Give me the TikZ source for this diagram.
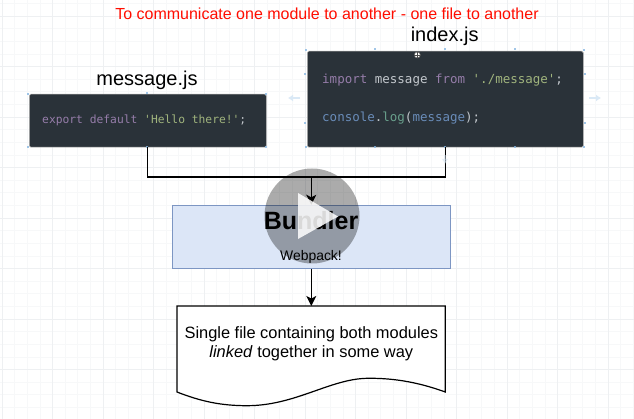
\documentclass[tikz,border=0pt]{standalone}
\usepackage{fontspec}
\setmainfont{Liberation Sans}
\newfontfamily\codefont{DejaVu Sans Mono}
\usetikzlibrary{arrows.meta}
\definecolor{gridmin}{RGB}{247,248,249}
\definecolor{gridmaj}{RGB}{238,240,242}
\definecolor{panel}{RGB}{42,50,57}
\definecolor{kw}{RGB}{150,125,170}
\definecolor{strc}{RGB}{160,180,125}
\definecolor{plain}{RGB}{195,200,205}
\definecolor{fn}{RGB}{105,140,185}
\definecolor{fng}{RGB}{105,160,140}
\definecolor{handle}{RGB}{130,180,225}
\definecolor{bfill}{RGB}{220,230,247}
\definecolor{bline}{RGB}{125,150,195}
\tikzset{
 codebox/.style={fill=panel,draw=gray!60,line width=0.5pt,rounded corners=1.5pt,anchor=north west,inner sep=0pt},
 codetxt/.style={font=\codefont\fontsize{11.3}{13}\selectfont,anchor=base west,inner sep=0pt},
 codetxtb/.style={font=\codefont\fontsize{12.5}{14}\selectfont,anchor=base west,inner sep=0pt},
 title/.style={font=\fontsize{20}{24}\selectfont,inner sep=0pt,anchor=base},
 link/.style={line width=1.2pt,black},
 tip/.style={-{Stealth[length=10pt,width=10pt,inset=2.5pt]}},
 hd/.style={fill=handle,opacity=.75,inner sep=0pt,minimum size=2pt,rectangle},
 ghost/.style={handle!30,line width=2pt,-{Latex[length=5pt,width=7pt]}},
}
\begin{document}
\begin{tikzpicture}[x=1pt,y=-1pt]
\useasboundingbox (0,0) rectangle (634,419);
\fill[white] (0,0) rectangle (634,419);
\foreach \k in {0,...,50} {
  \pgfmathsetmacro\gx{2+12.625*\k}
  \pgfmathsetmacro\gy{3.4+12.625*\k}
  \draw[gridmin,line width=.6pt] (\gx,0) -- (\gx,419);
  \draw[gridmin,line width=.6pt] (0,\gy) -- (634,\gy);
}
\foreach \k in {0,...,12} {
  \pgfmathsetmacro\gx{2+50.5*\k}
  \draw[gridmaj,line width=.6pt] (\gx,0) -- (\gx,419);
}
\foreach \k in {0,...,8} {
  \pgfmathsetmacro\gy{16+50.5*\k}
  \draw[gridmaj,line width=.6pt] (0,\gy) -- (634,\gy);
}

\node[font=\fontsize{16}{19}\selectfont,text=red!90!orange,inner sep=0pt,anchor=base] (head) at (327,20) {To communicate one module to another - one file to another};
\node[title] (tm) at (147,86) {message.js};
\node[title] (ti) at (444.7,41.7) {index.js};

\node[codebox,minimum width=237pt,minimum height=53pt] (msg) at (29,94) {};
\node[codebox,minimum width=276pt,minimum height=96pt] (idx) at (307,51) {};
\foreach \a/\b in {28/94,147/93.5,266/94,28/147,147/147,266/147,306/50,375/49,445/49,515/49,584/50,306/147,375/147,445/147,515/147,584/147,305/74,305/123,585/74,585/123}
  \node[hd] (h\a\b) at (\a,\b) {};
\coordinate (la1) at (300,98); \coordinate (la2) at (288,98);
\coordinate (ra1) at (589,98); \coordinate (ra2) at (601,98);
\coordinate (da1) at (445,155); \coordinate (da2) at (445,164);
\draw[ghost] (la1) -- (la2);
\draw[ghost] (ra1) -- (ra2);

\node[codetxt,text=kw] (m1) at (42,124) {export default \textcolor{strc}{'Hello there!'}\textcolor{plain}{;}};
\node[codetxtb,text=kw] (i1) at (322,84) {import \textcolor{plain}{message} from \textcolor{strc}{'./message'}\textcolor{plain}{;}};
\node[codetxtb,text=fn] (i2) at (322,122) {console\textcolor{plain}{.}\textcolor{fng}{log}\textcolor{plain}{(}message\textcolor{plain}{);}};

\node[circle,fill=white,draw=black!60,line width=.5pt,minimum size=6pt,inner sep=0pt] (cur) at (417.3,55) {};
\draw[black!70,line width=.7pt] (cur.north) -- (cur.south) (cur.west) -- (cur.east);

\node[fill=bfill,draw=bline,line width=1pt,minimum width=278pt,minimum height=63.4pt,inner sep=0pt] (bund) at (311.3,237) {};

\draw[link,fill=white] (177,306) -- (445.3,306) -- (445.3,392) .. controls (415,381) and (390,378) .. (367,378.3) .. controls (330,379) and (295,405.7) .. (247,405.7) .. controls (220,405.7) and (200,401) .. (177,392) -- cycle;
\coordinate (docin) at (311.3,306);
\node[font=\fontsize{16.4}{19}\selectfont,align=center,inner sep=0pt] (dt) at (311.3,344) {Single file containing both modules\\\textit{linked} together in some way};

\fill[black,opacity=.33] (312,216) circle (47.5);

\node[font=\bfseries\fontsize{25}{28}\selectfont,inner sep=0pt,anchor=base] (bt) at (311,230) {Bundler};
\node[font=\fontsize{13.9}{16}\selectfont,inner sep=0pt,anchor=base] (wp) at (311,261) {Webpack!};

\coordinate (join) at (311.3,177);
\draw[link] (msg.south) -- (msg.south |- join) -- (idx.south |- join) -- (idx.south);
\draw[link,tip] (join) -- (bund.north -| join);
\draw[link,tip] (bund.south) -- (docin);
\draw[ghost,opacity=.5] (da1) -- (da2);

\fill[white,opacity=.85] (298,193) -- (338,216.5) -- (298,239) -- cycle;
\end{tikzpicture}
\end{document}
